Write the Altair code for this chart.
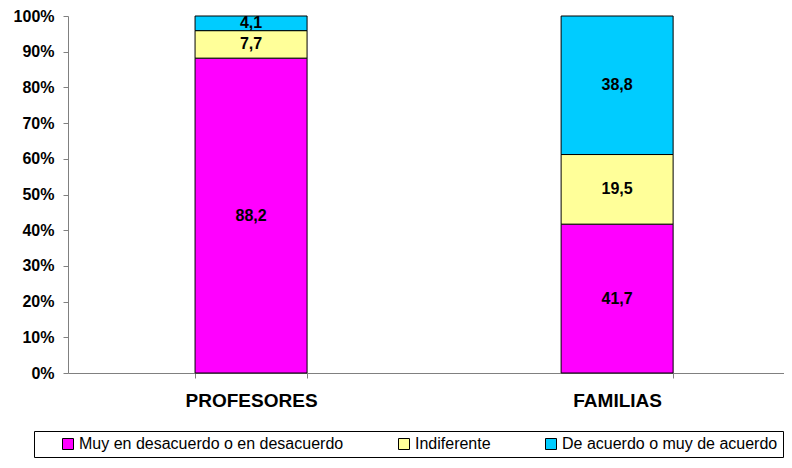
import altair as alt
import pandas as pd

grupos = ["PROFESORES", "PROFESORES", "PROFESORES", "FAMILIAS", "FAMILIAS", "FAMILIAS"]
respuestas = [
    "Muy en desacuerdo o en desacuerdo", "Indiferente", "De acuerdo o muy de acuerdo",
    "Muy en desacuerdo o en desacuerdo", "Indiferente", "De acuerdo o muy de acuerdo",
]
orden = [0, 1, 2, 0, 1, 2]
valores = [88.2, 7.7, 4.1, 41.7, 19.5, 38.8]

categorias = ["PROFESORES", "FAMILIAS"]
leyenda = ["Muy en desacuerdo o en desacuerdo", "Indiferente", "De acuerdo o muy de acuerdo"]
colores = ["#FF00FF", "#FFFF99", "#00CCFF"]
ticks_y = [0, 10, 20, 30, 40, 50, 60, 70, 80, 90, 100]

df = pd.DataFrame({"grupo": grupos, "respuesta": respuestas, "orden": orden, "valor": valores})

FONT = "Liberation Sans"

base = alt.Chart(df).transform_stack(
    stack="valor", groupby=["grupo"], as_=["y0", "y1"], sort=[alt.SortField("orden")]
).transform_calculate(
    mid="(datum.y0 + datum.y1) / 2",
    etiqueta="replace(format(datum.valor, '.1f'), '.', ',')",
)

xscale = alt.Scale(paddingInner=0.694, paddingOuter=0.325, align=0.534)
xaxis = alt.Axis(
    labelAngle=0, labelFont=FONT, labelFontSize=19, labelFontWeight="bold",
    labelColor="black", labelPadding=13, tickBand="extent", tickSize=5,
    tickColor="#808080", domainColor="#808080", grid=False,
)
yscale = alt.Scale(domain=[0, 100], nice=False)
yaxis = alt.Axis(
    values=ticks_y,
    labelExpr="datum.value + '%'",
    labelOverlap=False,
    labelFont=FONT, labelFontSize=16, labelFontWeight="bold",
    labelColor="black", labelPadding=9, tickSize=5,
    tickColor="#808080", domainColor="#808080", grid=False,
)

bars = base.mark_bar(stroke="black", strokeWidth=1).encode(
    x=alt.X("grupo:N", sort=categorias, title=None, scale=xscale, axis=xaxis),
    y=alt.Y("y0:Q", title=None, scale=yscale, axis=yaxis),
    y2="y1:Q",
    color=alt.Color(
        "respuesta:N",
        scale=alt.Scale(domain=leyenda, range=colores),
        sort=leyenda,
        title=" ",
        legend=alt.Legend(
            orient="none", legendX=-34, legendY=415, direction="horizontal",
            columns=3, symbolType="square", symbolSize=121,
            symbolStrokeColor="black", symbolStrokeWidth=1,
            labelFont=FONT, labelFontSize=16, labelColor="black",
            labelLimit=400, columnPadding=52, padding=5,
            titleOrient="left", titleFontSize=4, titlePadding=21,
            strokeColor="black", fillColor="white",
            labelOffset=3,
        ),
    ),
    order=alt.Order("orden:Q"),
)

texts = base.mark_text(font=FONT, fontSize=16, fontWeight="bold", color="black").encode(
    x=alt.X("grupo:N", sort=categorias, title=None, scale=xscale, axis=xaxis),
    y=alt.Y("mid:Q", title=None, scale=yscale, axis=yaxis),
    text="etiqueta:N",
)

chart = alt.layer(bars, texts).properties(
    width=716, height=357,
    padding={"left": 60, "top": 8, "right": 0, "bottom": 87},
    autosize=alt.AutoSizeParams(type="none"),
).configure_view(stroke=None)

chart.save("out.html", embed_options={"renderer": "svg", "actions": False})
